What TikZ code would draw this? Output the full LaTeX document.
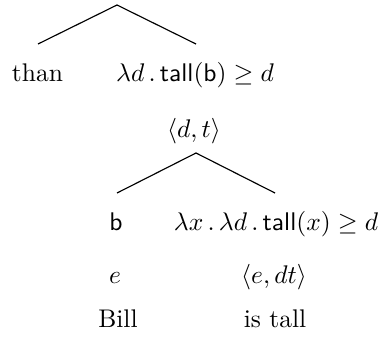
\documentclass[tikz,border=0pt]{standalone}
\usepackage{amsmath,amssymb}
\begin{document}
\begin{tikzpicture}[x=0.392pt,y=-0.392pt,
  lbl/.style={anchor=base,inner sep=0pt,outer sep=0pt},
  branch/.style={draw=black,line width=0.45pt}]
\useasboundingbox (0,0) rectangle (383,341);
% top branching
\coordinate (r) at (117,5);
\coordinate (rl) at (38,44);
\coordinate (rr) at (196,44);
\draw[branch] (rl) -- (r) -- (rr);
\node[lbl] (than) at (37.5,82) {than};
\node[lbl] (pred) at (195,82) {$\lambda d\,.\,\textsf{tall}(\textsf{b})\geq d$};
\node[lbl] (dt) at (194,137) {$\langle d,t\rangle$};
% lower branching
\coordinate (s) at (196,153);
\coordinate (sl) at (117,193);
\coordinate (sr) at (275,193);
\draw[branch] (sl) -- (s) -- (sr);
\node[lbl] (b) at (116,230) {\textsf{b}};
\node[lbl] (fn) at (276,230) {$\lambda x\,.\,\lambda d\,.\,\textsf{tall}(x)\geq d$};
\node[lbl] (e) at (115,283) {$e$};
\node[lbl] (edt) at (274,283) {$\langle e,dt\rangle$};
\node[lbl] (bill) at (118,327) {Bill};
\node[lbl] (istall) at (275,327) {is tall};
\end{tikzpicture}
\end{document}
